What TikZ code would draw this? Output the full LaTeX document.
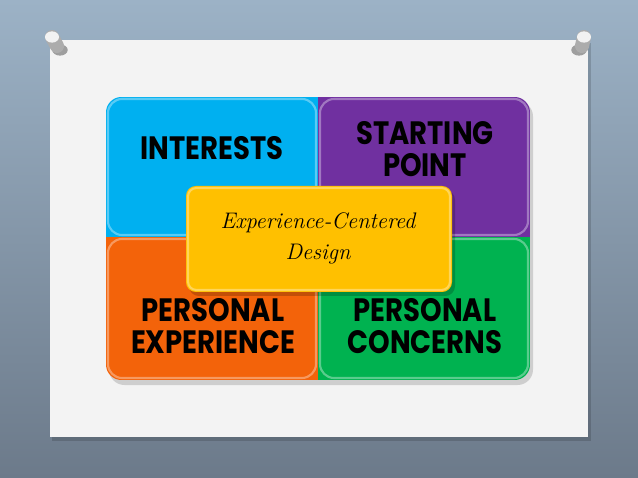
\documentclass[tikz,border=0pt]{standalone}
\usepackage{fontspec}
\newfontfamily\capsfont[FakeStretch=0.85]{Poppins}
\usetikzlibrary{shadows}
\definecolor{walltop}{RGB}{156,178,198}
\definecolor{wallbottom}{RGB}{108,122,138}
\definecolor{paper}{RGB}{243,243,243}
\definecolor{quadcyan}{RGB}{0,176,240}
\definecolor{quadpurple}{RGB}{112,48,160}
\definecolor{quadorange}{RGB}{243,99,10}
\definecolor{quadgreen}{RGB}{0,178,80}
\definecolor{centeryellow}{RGB}{255,192,0}
\tikzset{
  capslabel/.style={font=\capsfont\bfseries\fontsize{23}{23}\selectfont, align=center, text=black},
  scriptlabel/.style={font=\itshape\fontsize{16}{22}\selectfont, align=center, text=black},
  bevel/.style={white, opacity=0.35, line width=1.5pt}
}
\begin{document}
\begin{tikzpicture}[x=0.025cm,y=-0.025cm]
\useasboundingbox (0,0) rectangle (638,478);
\shade[top color=walltop, bottom color=wallbottom] (0,0) rectangle (638,478);
% paper
\fill[black,opacity=0.15] (52,43) rectangle (591,441);
\fill[paper] (50,40) rectangle (588,437);
% pins
\fill[black,opacity=0.35] (60,50) ellipse [x radius=5.5pt, y radius=4pt];
\draw[gray!65, line width=10pt, line cap=round] (52,37) -- (57,46);
\fill[gray!10] (52,37) ellipse [x radius=5pt, y radius=4pt];
\fill[black,opacity=0.35] (579,50) ellipse [x radius=5.5pt, y radius=4pt];
\draw[gray!65, line width=10pt, line cap=round] (584,37) -- (582,46);
\fill[gray!10] (584,37) ellipse [x radius=5pt, y radius=4pt];
% grid shadow
\fill[black,opacity=0.15,rounded corners=11pt] (109,101) rectangle (533,385);
% quadrants
\begin{scope}
\clip[rounded corners=11pt] (106,97) rectangle (530,380);
\fill[quadcyan] (106,97) rectangle (318,237);
\fill[quadpurple] (318,97) rectangle (530,237);
\fill[quadorange] (106,237) rectangle (318,380);
\fill[quadgreen] (318,237) rectangle (530,380);
\draw[bevel,rounded corners=10pt] (108,99) -- (108,235) -- (316,235) -- (316,99) -- cycle;
\draw[bevel,rounded corners=10pt] (320,99) -- (320,235) -- (528,235) -- (528,99) -- cycle;
\draw[bevel,rounded corners=10pt] (108,239) -- (108,378) -- (316,378) -- (316,239) -- cycle;
\draw[bevel,rounded corners=10pt] (320,239) -- (320,378) -- (528,378) -- (528,239) -- cycle;
\end{scope}
\node (interests) at (212,148) [capslabel]{INTERESTS};
\node (starting) at (425,149) [capslabel]{STARTING\\POINT};
\node (experience) at (213,326) [capslabel]{PERSONAL\\EXPERIENCE};
\node (concerns) at (425,326) [capslabel]{PERSONAL\\CONCERNS};
% centre box
\fill[black,opacity=0.2,rounded corners=7pt] (189,190) rectangle (455,296);
\fill[centeryellow,rounded corners=7pt] (186,186) rectangle (452,292);
\draw[bevel,rounded corners=6pt] (188,188) rectangle (450,290);
\node (ecd) at (318,238) [scriptlabel]{Experience-Centered\\Design};
\end{tikzpicture}
\end{document}
